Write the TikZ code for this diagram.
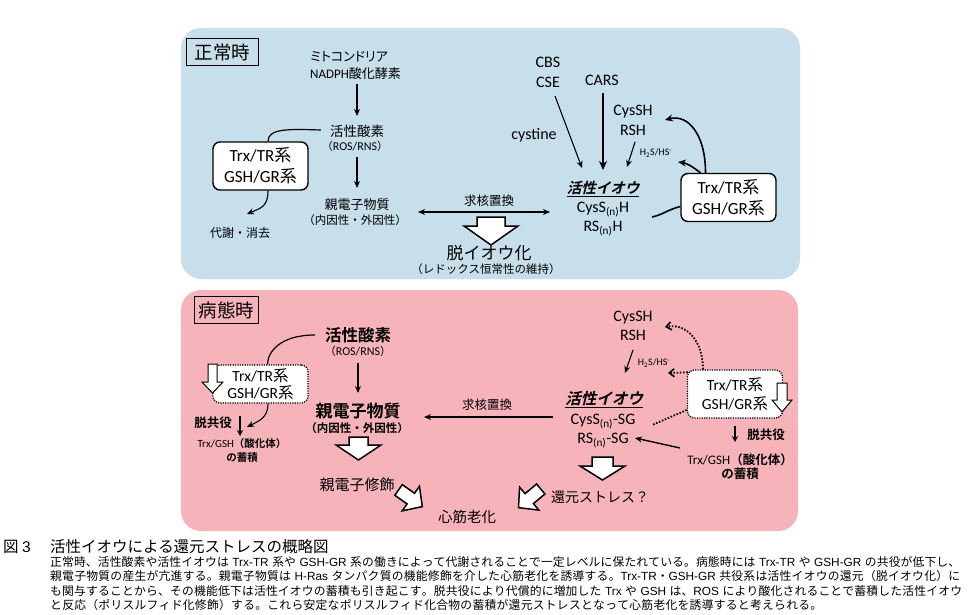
\documentclass[tikz,border=0pt]{standalone}
\usepackage{fontspec}
\setmainfont{Noto Sans CJK JP}
\newfontfamily\lat{Carlito}
\newfontfamily\jpb{Noto Sans CJK JP Bold}
\newfontfamily\jpbi[FakeSlant=0.25]{Noto Sans CJK JP Bold}
\newfontfamily\jpp[RawFeature=+palt]{Noto Sans CJK JP}
\newfontfamily\ari{Liberation Sans}
\usetikzlibrary{arrows.meta,calc}
\newXeTeXintercharclass\cjkcls
\newcount\cc
\newcommand\setcls[2]{\cc=#1\relax\loop\XeTeXcharclass\cc=\cjkcls\relax\ifnum\cc<#2\advance\cc by 1\repeat}
\setcls{"3000}{"30FF}
\setcls{"4E00}{"9FFF}
\setcls{"FF00}{"FFEF}
\XeTeXinterchartoks\cjkcls\cjkcls={\hskip 0pt plus 2pt minus 0.2pt\relax}
\newcommand\capbox[2]{\hbox to #1{\XeTeXinterchartokenstate=1 \spaceskip=3.5pt plus 0.5pt minus 0.5pt\relax #2}}
\newcommand\fsz[2]{\fontsize{#1}{#2}\selectfont}
\definecolor{pblue}{RGB}{199,223,235}
\definecolor{ppink}{RGB}{246,180,186}
\tikzset{
 lbl/.style={inner sep=0pt, align=center},
 sysbox/.style={draw, line width=1.4pt, rounded corners=7pt, fill=white, minimum width=95pt, minimum height=48pt, inner sep=0pt, align=center, font=\fsz{17}{21}},
 dotbox/.style={sysbox, dash pattern=on 1.2pt off 1.2pt, line width=1.3pt},
 tbox/.style={draw, line width=1.1pt, inner sep=0pt, minimum height=27pt, font=\fsz{18.5}{20}},
 ar/.style={-{Stealth[length=7pt,width=6pt]}, line width=1.1pt},
 thk/.style={-{Stealth[length=9pt,width=8pt]}, line width=2.4pt},
 cur/.style={-{Stealth[length=8pt,width=7pt]}, line width=1.6pt},
 blk/.style={draw, fill=white, line width=1.5pt, line join=miter},
 dots/.style={line width=1.8pt, dash pattern=on 1.6pt off 1.6pt},
 dotar/.style={dots, -{Straight Barb[length=5pt,width=8pt,line width=1.6pt]}},
 capline/.style={anchor=west, inner sep=0pt, font=\fsz{11.8}{14}},
}
\begin{document}
\begin{tikzpicture}[x=1pt,y=-1pt]
\useasboundingbox (0,0) rectangle (975,615);
% panels
\fill[pblue, rounded corners=20pt] (181,28) rectangle (800,279);
\fill[ppink, rounded corners=20pt] (181,290) rectangle (798,531);

% ===== top panel =====
\node[tbox, minimum width=72pt] (t1) at (222.5,52) {正常時};
\node[lbl, anchor=west, align=left, font=\jpp\fsz{13}{17}] (mito) at (310,65) {ミトコンドリア\\{\lat NADPH}酸化酵素};
\node[lbl, font=\fsz{13.5}{16}] (ros1) at (357,131) {活性酸素};
\node[lbl, font=\fsz{11}{13}] (ros1s) at (355,146) {（{\lat\fsz{12}{13}ROS/RNS}）};
\node[lbl, font=\fsz{13}{16}] (el1) at (357,205) {親電子物質};
\node[lbl, font=\fsz{11.5}{13}] (el1s) at (355,220) {（内因性・外因性）};
\node[sysbox] (trx1) at (260.5,166) {{\lat Trx/TR}系\\{\lat GSH/GR}系};
\node[lbl, font=\fsz{12}{13}] (metab) at (240,233) {代謝・消去};
\node[lbl, font=\fsz{12.5}{15}] (kyu1) at (489,201) {求核置換};
\node[lbl, font=\fsz{17}{20}] (dsul) at (489,253) {脱イオウ化};
\node[lbl, font=\fsz{11.5}{13}] (redox) at (486,269) {（レドックス恒常性の維持）};
\node[lbl, font=\lat\fsz{16}{20}] (cbs) at (548,72) {CBS\\CSE};
\node[lbl, font=\lat\fsz{16}{20}] (cars) at (602,80) {CARS};
\node[lbl, font=\lat\fsz{16}{20}] (cyst) at (534,135) {cystine};
\node[lbl, font=\lat\fsz{16}{20}] (cyssh1) at (633,120) {CysSH\\RSH};
\node[lbl, font=\lat\fsz{10}{12}] (h2s1) at (656,153) {H\textsubscript{2}S/HS\textsuperscript{-}};
\node[lbl, font=\jpbi\fsz{14.5}{17}] (act1) at (603,189) {\underline{活性イオウ}};
\node[lbl, font=\lat\fsz{16}{19}] (cyss1) at (603,219) {CysS\textsubscript{(n)}H\\RS\textsubscript{(n)}H};
\node[sysbox] (trx2) at (728.5,197.5) {{\lat Trx/TR}系\\{\lat GSH/GR}系};

\draw[ar] ($(mito.south -| ros1)+(0,5)$) -- ($(ros1)+(0,-15)$);
\draw[ar] ($(ros1s)+(2,11)$) -- ($(el1)+(0,-17)$);
\draw[line width=1.2pt] ($(ros1.west)+(-9,-1)$) .. controls +(-32,-1) and +(0,-13) .. ($(trx1.north)+(7.5,0)$);
\draw[ar] ($(trx1.south)+(7.5,0)$) .. controls +(0,16) and +(14,-6) .. ($(metab)+(7,-19)$);
\draw[{Stealth[length=7pt,width=6pt]}-{Stealth[length=7pt,width=6pt]}, line width=1.5pt] ($(el1s)+(63,-8)$) -- ($(cyss1)+(-53,-7)$);
\draw[blk] (477,217) -- (505,217) -- (505,226) -- (518,226) -- (491,245) -- (464,226) -- (477,226) -- cycle;
\draw[ar] ($(cbs)+(7,24)$) -- ($(act1)+(-21,-21)$);
\draw[thk] ($(cars)+(1,13)$) -- ($(act1)+(0,-19)$);
\draw[ar] ($(cyssh1)+(2,22)$) -- ($(act1)+(24,-22)$);
\draw[cur] ($(trx2.north)+(-23,0)$) .. controls +(0,-40) and +(22,-6) .. ($(cyssh1)+(32,0)$);
\draw[cur] ($(trx2.north)+(-28,0)$) .. controls +(-9,-7) and +(8,1) .. ($(h2s1)+(22,9)$);
\draw[line width=1.6pt] ($(trx2.west)+(0,9)$) .. controls +(-12,3) and +(10,-2) .. ($(cyss1)+(49,-2)$);

% ===== bottom panel =====
\node[tbox, minimum width=64pt] (t2) at (226.5,310) {病態時};
\node[lbl, font=\jpb\fsz{16.5}{19}] (ros2) at (358,335) {活性酸素};
\node[lbl, font=\fsz{11}{13}] (ros2s) at (358,351) {（{\lat\fsz{12}{13}ROS/RNS}）};
\node[lbl, font=\jpb\fsz{17}{20}] (el2) at (358,411) {親電子物質};
\node[lbl, font=\jpb\fsz{11.5}{13}] (el2s) at (357,428) {（内因性・外因性）};
\node[dotbox, font=\fsz{15.5}{17}, minimum height=38pt] (trx3) at (260.5,384) {{\lat Trx/TR}系\\{\lat GSH/GR}系};
\draw[blk, line width=1pt] (208,364) -- (217,364) -- (217,382) -- (223,382) -- (212.5,393) -- (202,382) -- (208,382) -- cycle;
\node[lbl, font=\jpb\fsz{12.5}{15}] (dk1) at (213,423) {脱共役};
\node[lbl, font=\jpb\fsz{10.5}{14}] (acc1) at (242,450) {{\lat\fsz{11}{14}Trx/GSH}（酸化体）\\の蓄積};
\node[lbl, font=\fsz{15}{18}] (mod) at (357,485) {親電子修飾};
\node[lbl, font=\fsz{14.5}{17}] (aging) at (467,517) {心筋老化};
\node[lbl, font=\fsz{12.5}{15}] (kyu2) at (487,405) {求核置換};
\node[lbl, font=\lat\fsz{16}{19}] (cyssh2) at (633,326) {CysSH\\RSH};
\node[lbl, font=\lat\fsz{10}{12}] (h2s2) at (654,363) {H\textsubscript{2}S/HS\textsuperscript{-}};
\node[lbl, font=\jpbi\fsz{15.5}{18}] (act2) at (604,400) {\underline{活性イオウ}};
\node[lbl, font=\lat\fsz{16}{19}] (cyss2) at (603,431) {CysS\textsubscript{(n)}-SG\\RS\textsubscript{(n)}-SG};
\node[dotbox, font=\fsz{15.5}{19}] (trx4) at (735,394) {{\lat Trx/TR}系\\{\lat GSH/GR}系};
\draw[blk, line width=1pt] (777,383) -- (787,383) -- (787,400) -- (792,400) -- (782,412) -- (772,400) -- (777,400) -- cycle;
\node[lbl, font=\jpb\fsz{12.5}{15}] (dk2) at (766,435) {脱共役};
\node[lbl, font=\jpb\fsz{12.5}{14}] (acc2) at (740,467) {{\lat\fsz{13}{14}Trx/GSH}（酸化体）\\の蓄積};
\node[lbl, font=\fsz{14}{17}] (stress) at (600,497) {還元ストレス？};

\draw[ar] ($(ros2s)+(0,12)$) -- ($(el2)+(0,-18)$);
\draw[line width=1.2pt] ($(ros2.west)+(-10,0)$) .. controls +(-35,0) and +(0,-12) .. ($(trx3.north)+(7,0)$);
\draw[ar] ($(trx3.south)+(7.5,0)$) .. controls +(0,14) and +(12,-6) .. ($(dk1)+(34,4)$);
\draw[-{Stealth[length=6pt,width=6pt]}, line width=2pt] ($(dk1)+(27,-7)$) -- ($(dk1)+(27,13)$);
\draw[ar, line width=1.5pt] ($(cyss2)+(-50,-14)$) -- ($(el2)+(66,6)$);
\draw[blk] (349,437) -- (368,437) -- (368,445) -- (381,445) -- (358.5,460) -- (336,445) -- (349,445) -- cycle;
\draw[ar] ($(cyssh2)+(0,24)$) -- ($(act2)+(21,-27)$);
\draw[dotar] ($(trx4.north)+(-32,0)$) .. controls +(0,-28) and +(22,-4) .. ($(cyssh2)+(32,1)$);
\draw[dotar] ($(trx4.north west)+(1,3)$) -- ($(h2s2)+(14,10)$);
\draw[dots] ($(trx4.west)+(0,16)$) -- ($(cyss2)+(49,-6)$);
\draw[ar, line width=1.4pt] ($(acc2)+(-60,-19)$) -- ($(cyss2)+(32,7)$);
\draw[-{Stealth[length=6pt,width=6pt]}, line width=2pt] ($(dk2)+(-31,-9)$) -- ($(dk2)+(-31,7)$);
\draw[blk] (592,457) -- (613,457) -- (613,466) -- (625,466) -- (602.5,480) -- (580,466) -- (592,466) -- cycle;
\begin{scope}[shift={(410,498)}, rotate=-35]
\draw[blk] (-14,-6.5) -- (1,-6.5) -- (1,-15) -- (15,0) -- (1,15) -- (1,6.5) -- (-14,6.5) -- cycle;
\end{scope}
\begin{scope}[shift={(530,498)}, rotate=-140]
\draw[blk] (-14,-6.5) -- (1,-6.5) -- (1,-15) -- (15,0) -- (1,15) -- (1,6.5) -- (-14,6.5) -- cycle;
\end{scope}

% ===== caption =====
\node[anchor=west, inner sep=0pt, font=\fsz{15.5}{18}] (fig) at (3,547) {図 {\ari 3}};
\node[anchor=west, inner sep=0pt, font=\fsz{15.5}{18}] (capt) at (50,547) {活性イオウによる還元ストレスの概略図};
\node[capline] (c1) at (50,562) {\capbox{910pt}{正常時、活性酸素や活性イオウは {\ari Trx-TR} 系や {\ari GSH-GR} 系の働きによって代謝されることで一定レベルに保たれている。病態時には {\ari Trx-TR} や {\ari GSH-GR} の共役が低下し、}};
\node[capline] (c2) at (50,576.5) {\capbox{910pt}{親電子物質の産生が亢進する。親電子物質は {\ari H-Ras} タンパク質の機能修飾を介した心筋老化を誘導する。{\ari Trx-TR}・{\ari GSH-GR} 共役系は活性イオウの還元（脱イオウ化）に}};
\node[capline] (c3) at (50,591) {\capbox{912pt}{も関与することから、その機能低下は活性イオウの蓄積も引き起こす。脱共役により代償的に増加した {\ari Trx} や {\ari GSH} は、{\ari ROS} により酸化されることで蓄積した活性イオウ}};
\node[capline] (c4) at (50,605.5) {\capbox{772pt}{と反応（ポリスルフィド化修飾）する。これら安定なポリスルフィド化合物の蓄積が還元ストレスとなって心筋老化を誘導すると考えられる。}};
\end{tikzpicture}
\end{document}
